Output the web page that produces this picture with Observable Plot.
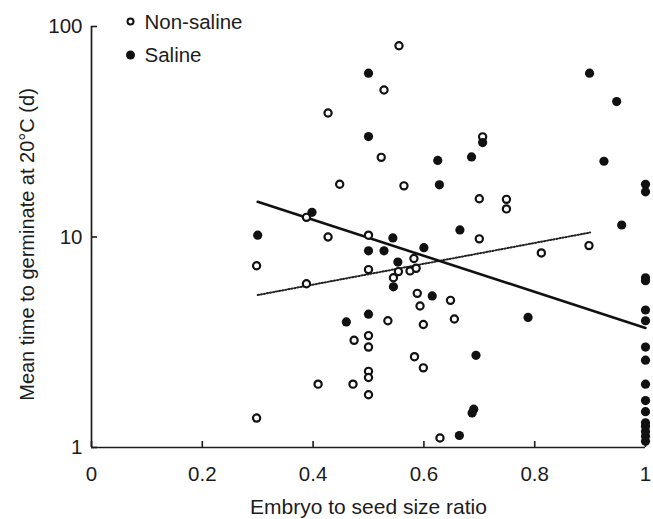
<!DOCTYPE html>
<html><head><meta charset="utf-8">
<script src="https://cdn.jsdelivr.net/npm/d3@7"></script>
<script src="https://cdn.jsdelivr.net/npm/@observablehq/plot@0.6"></script>
<style>
html,body{margin:0;padding:0;background:#fff;}
#chart svg{display:block;}
</style></head><body><div id="chart"></div>
<script>
// ---- data ----
const nonSalineX = [0.298,0.298,0.388,0.388,0.409,0.427,0.427,0.448,0.472,0.474,0.5,0.5,0.5,0.5,0.5,0.5,0.5,0.523,0.528,0.535,0.545,0.554,0.555,0.564,0.575,0.582,0.586,0.583,0.588,0.593,0.599,0.599,0.629,0.648,0.655,0.70,0.70,0.706,0.749,0.749,0.812,0.898];
const nonSalineY = [7.3,1.38,12.4,6.0,2.0,38.8,10.0,17.8,2.0,3.23,10.2,7.0,3.4,3.0,2.3,2.15,1.78,23.9,49.9,4.0,6.4,6.85,81,17.5,6.9,7.9,7.1,2.7,5.4,4.7,3.84,2.39,1.11,5.0,4.08,9.8,15.2,29.9,15.1,13.6,8.4,9.1];
const salineX = [0.3,0.398,0.46,0.5,0.5,0.5,0.5,0.528,0.544,0.553,0.545,0.6,0.615,0.625,0.628,0.664,0.665,0.686,0.687,0.69,0.694,0.706,0.788,0.899,0.925,0.948,0.957,1,1,1,1,1,1,1,1,1,1,1,1,1,1,1,1];
const salineY = [10.2,13.1,3.95,60,30,8.6,4.3,8.6,9.9,7.6,5.8,8.9,5.25,23.1,17.7,1.14,10.8,24.0,1.46,1.52,2.74,28.1,4.15,60,22.9,44,11.4,17.8,16.4,6.4,6.2,4.5,4.0,3.0,2.6,2.0,1.67,1.48,1.31,1.26,1.19,1.13,1.07];
const nonSalineFitX = [0.3, 0.9];
const nonSalineFitY = [5.3, 10.5];
const salineFitX = [0.3, 1.0];
const salineFitY = [14.7, 3.7];
const xTicks = [0, 0.2, 0.4, 0.6, 0.8, 1];
const yTicks = [1, 10, 100];
const seriesNames = ["Non-saline", "Saline"];
const xLabel = "Embryo to seed size ratio";
const yLabel = "Mean time to germinate at 20°C (d)";

// ---- build tables ----
const nonSaline = nonSalineX.map((x, i) => ({x, y: nonSalineY[i]}));
const saline = salineX.map((x, i) => ({x, y: salineY[i]}));
const nonSalineFit = nonSalineFitX.map((x, i) => ({x, y: nonSalineFitY[i]}));
const salineFit = salineFitX.map((x, i) => ({x, y: salineFitY[i]}));

const ink = "#1c1c1c";
const font = "'Liberation Sans', Arial, Helvetica, sans-serif";

const chart = Plot.plot({
  width: 653, height: 519,
  marginLeft: 91, marginRight: 8, marginTop: 26, marginBottom: 72,
  style: {fontFamily: font, fontSize: "20px", color: ink, background: "#fff", overflow: "visible"},
  x: {domain: [0, 1]},
  y: {type: "log", domain: [1, 100]},
  marks: [
    Plot.axisX({ticks: xTicks, tickFormat: d => String(d), tickSize: -6, tickPadding: 25, fontSize: 20.5, stroke: ink, strokeWidth: 1.6, fill: ink, label: null}),
    Plot.axisY({ticks: yTicks, tickFormat: d => String(d), tickSize: -6, tickPadding: 15, fontSize: 20.5, stroke: ink, strokeWidth: 1.6, fill: ink, label: null}),
    Plot.ruleX([0], {stroke: ink, strokeWidth: 1.7}),
    Plot.ruleY([1], {stroke: ink, strokeWidth: 1.7}),
    Plot.text([xLabel], {frameAnchor: "bottom", textAnchor: "middle", lineAnchor: "middle", dy: 60, fontSize: 21, fill: ink}),
    Plot.text([yLabel], {frameAnchor: "left", textAnchor: "middle", rotate: -90, lineAnchor: "middle", dx: -63.5, dy: 7.5, fontSize: 20, fill: ink}),
    // regression lines
    Plot.line(nonSalineFit, {x: "x", y: "y", stroke: "#222", strokeWidth: 2, strokeDasharray: "1.3,1.8"}),
    Plot.line(salineFit, {x: "x", y: "y", stroke: "#111", strokeWidth: 2.6}),
    // points
    Plot.dot(nonSaline, {x: "x", y: "y", r: 3.6, fill: "#fff", stroke: "#111", strokeWidth: 2.2}),
    Plot.dot(saline, {x: "x", y: "y", r: 4.6, fill: "#111", stroke: "none"}),
    // legend
    Plot.dot([seriesNames[0]], {frameAnchor: "top-left", dx: 39, dy: -5, r: 3, fill: "#fff", stroke: "#111", strokeWidth: 2}),
    Plot.text([seriesNames[0]], {frameAnchor: "top-left", dx: 53, dy: -4.5, textAnchor: "start", lineAnchor: "middle", fontSize: 20.5, fill: ink}),
    Plot.dot([seriesNames[1]], {frameAnchor: "top-left", dx: 39, dy: 28.5, r: 4.5, fill: "#111"}),
    Plot.text([seriesNames[1]], {frameAnchor: "top-left", dx: 53, dy: 29, textAnchor: "start", lineAnchor: "middle", fontSize: 20.5, fill: ink})
  ]
});
document.getElementById("chart").appendChild(chart);
</script>
</body></html>
